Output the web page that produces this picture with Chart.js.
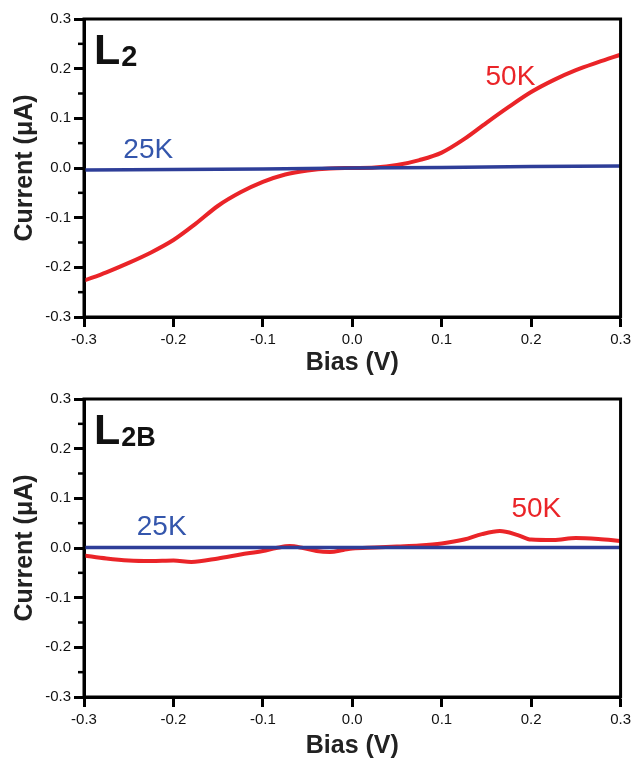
<!DOCTYPE html>
<html>
<head>
  <meta charset="utf-8">
  <title>IV curves</title>
  <script src="https://cdn.jsdelivr.net/npm/chart.js@4/dist/chart.umd.min.js"></script>
  <style>
    body { margin: 0; background: #fff; }
    .panel { width: 635px; }
  </style>
</head>
<body>
  <div class="panel"><canvas id="top-chart" width="635" height="380"></canvas></div>
  <div class="panel"><canvas id="bottom-chart" width="635" height="381"></canvas></div>

<script>
// ---- data ----
var biasTop = [-0.3, -0.275, -0.25, -0.225, -0.2, -0.175, -0.15, -0.125, -0.1, -0.075, -0.05, -0.025,
               0, 0.025, 0.05, 0.075, 0.1, 0.125, 0.15, 0.175, 0.2, 0.225, 0.25, 0.275, 0.3];
var top50K  = [-0.227, -0.210, -0.191, -0.170, -0.145, -0.112, -0.076, -0.049, -0.028, -0.013, -0.005, -0.001,
               0.000, 0.001, 0.006, 0.016, 0.031, 0.058, 0.091, 0.123, 0.153, 0.177, 0.197, 0.213, 0.228];
var biasTop25 = [-0.3, -0.2, -0.1, 0, 0.1, 0.2, 0.3];
var top25K    = [-0.004, -0.003, -0.002, 0.000, 0.001, 0.003, 0.004];

var biasBot = [-0.3, -0.275, -0.25, -0.225, -0.2, -0.18, -0.15, -0.125, -0.1, -0.085, -0.07, -0.055, -0.04,
               -0.025, -0.01, 0, 0.025, 0.05, 0.075, 0.1, 0.125, 0.145, 0.165, 0.185, 0.2, 0.225, 0.25, 0.275, 0.3];
var bot50K  = [-0.015, -0.021, -0.025, -0.026, -0.025, -0.028, -0.021, -0.013, -0.006, 0.000, 0.004, 0.000, -0.006,
               -0.008, -0.004, -0.001, 0.001, 0.003, 0.005, 0.009, 0.017, 0.028, 0.034, 0.026, 0.017, 0.016, 0.020, 0.018, 0.014];
var biasBot25 = [-0.3, -0.15, 0, 0.15, 0.3];
var bot25K    = [0.001, 0.001, 0.001, 0.001, 0.001];

var minorTicks = [-0.25, -0.15, -0.05, 0.05, 0.15, 0.25];

var RED = 'rgb(234, 36, 40)';
var BLUE = 'rgb(46, 62, 152)';
var BLUE_TXT = 'rgb(52, 86, 172)';

function pts(xs, ys) {
  return xs.map(function (x, i) { return { x: x, y: ys[i] }; });
}

function fmt(v) {
  if (Math.abs(v) < 1e-9) return '0.0';
  return v.toFixed(1);
}

// frame + minor ticks + panel labels
var decor = {
  id: 'decor',
  afterDraw: function (chart, args, opts) {
    var ctx = chart.ctx, a = chart.chartArea, ys = chart.scales.y, xs = chart.scales.x;
    ctx.save();
    ctx.strokeStyle = '#000';
    ctx.lineWidth = 3;
    ctx.strokeRect(a.left, a.top, a.right - a.left, a.bottom - a.top);

    ctx.lineWidth = 2.5;
    minorTicks.forEach(function (v) {
      var py = ys.getPixelForValue(v);
      ctx.beginPath();
      ctx.moveTo(a.left - 6, py);
      ctx.lineTo(a.left, py);
      ctx.stroke();
    });

    // panel name
    ctx.fillStyle = '#111';
    ctx.textBaseline = 'alphabetic';
    ctx.font = 'bold 43px "Liberation Sans", Arial, sans-serif';
    ctx.fillText('L', a.left + 10, a.top + 45);
    var w = ctx.measureText('L').width;
    ctx.font = 'bold ' + opts.subSize + 'px "Liberation Sans", Arial, sans-serif';
    ctx.fillText(opts.sub, a.left + 10 + w + 1, a.top + 47);

    // curve labels
    ctx.font = '28px "Liberation Sans", Arial, sans-serif';
    opts.notes.forEach(function (n) {
      ctx.fillStyle = n.color;
      ctx.fillText(n.text, xs.getPixelForValue(n.x), ys.getPixelForValue(n.y));
    });
    ctx.restore();
  }
};

function makeChart(id, d50, d25, sub, subSize, notes, titleBottomPad) {
  var ctx = document.getElementById(id).getContext('2d');
  var tickFont = { family: '"Liberation Sans", Arial, sans-serif', size: 15 };
  var titleFont = { family: '"Liberation Sans", Arial, sans-serif', size: 25, weight: 'bold' };
  return new Chart(ctx, {
    type: 'line',
    data: {
      datasets: [
        { label: '25K', data: d25, borderColor: BLUE, borderWidth: 3.5, pointRadius: 0, tension: 0, fill: false },
        { label: '50K', data: d50, borderColor: RED, borderWidth: 4, pointRadius: 0,
          cubicInterpolationMode: 'monotone', fill: false }
      ]
    },
    options: {
      responsive: false,
      animation: false,
      events: [],
      layout: { padding: { top: 19, right: 14, left: 0, bottom: 0 } },
      plugins: {
        legend: { display: false },
        tooltip: { enabled: false },
        decor: { sub: sub, subSize: subSize, notes: notes }
      },
      scales: {
        x: {
          type: 'linear', min: -0.3, max: 0.3,
          ticks: { stepSize: 0.1, callback: fmt, color: '#111', font: tickFont, padding: 4, maxRotation: 0 },
          grid: { drawOnChartArea: false, drawTicks: true, tickLength: 10, tickWidth: 3, tickColor: '#000' },
          border: { display: true, color: '#000', width: 3 },
          title: { display: true, text: 'Bias (V)', color: '#222', font: titleFont, padding: { top: 0, bottom: titleBottomPad } },
          afterFit: function (s) { s.height = s.chart.height - 19 - 298; }
        },
        y: {
          type: 'linear', min: -0.3, max: 0.3,
          ticks: { stepSize: 0.1, callback: fmt, color: '#111', font: tickFont, padding: 3 },
          grid: { drawOnChartArea: false, drawTicks: true, tickLength: 10, tickWidth: 3, tickColor: '#000' },
          border: { display: true, color: '#000', width: 3 },
          title: { display: true, text: 'Current (μA)', color: '#222', font: titleFont, padding: { top: 10, bottom: 0 } },
          afterFit: function (s) { s.width = 84; }
        }
      }
    },
    plugins: [decor]
  });
}

makeChart('top-chart', pts(biasTop, top50K), pts(biasTop25, top25K), '2', 29,
  [{ text: '25K', x: -0.256, y: 0.02, color: BLUE_TXT },
   { text: '50K', x: 0.149, y: 0.168, color: RED }], 2);

makeChart('bottom-chart', pts(biasBot, bot50K), pts(biasBot25, bot25K), '2B', 27,
  [{ text: '25K', x: -0.241, y: 0.027, color: BLUE_TXT },
   { text: '50K', x: 0.178, y: 0.063, color: RED }], 0);
</script>
</body>
</html>
